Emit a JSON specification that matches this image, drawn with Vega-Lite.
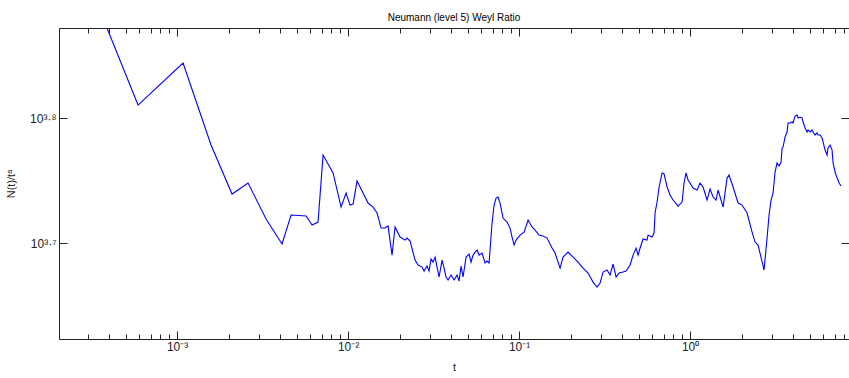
{
  "$schema": "https://vega.github.io/schema/vega-lite/v6.json",
  "width": 790,
  "height": 311,
  "autosize": {"type": "none"},
  "padding": {"left": 59, "top": 28, "right": 0, "bottom": 39},
  "background": "white",
  "title": {"text": "Neumann (level 5) Weyl Ratio", "fontSize": 10, "font": "Liberation Sans", "fontWeight": "normal", "color": "#000000", "offset": 5, "anchor": "middle"},
  "config": {
    "view": {"stroke": null},
    "axis": {"domainColor": "#222222", "tickColor": "#222222", "labelColor": "#222222", "titleColor": "#222222", "labelFont": "Liberation Sans", "titleFont": "Liberation Sans", "grid": false, "titleFontWeight": "normal", "labelFontSize": 11, "titleFontSize": 11}
  },
  "data": {"values": [
    {"t": 0.0003546, "ratio": 7685}, {"t": 0.0005914, "ratio": 6462}, {"t": 0.001084, "ratio": 6982}, {"t": 0.001580, "ratio": 6003},
    {"t": 0.002097, "ratio": 5485}, {"t": 0.002602, "ratio": 5598}, {"t": 0.003315, "ratio": 5238}, {"t": 0.004111, "ratio": 5003},
    {"t": 0.004642, "ratio": 5277}, {"t": 0.005681, "ratio": 5268}, {"t": 0.006159, "ratio": 5181}, {"t": 0.006676, "ratio": 5209},
    {"t": 0.007142, "ratio": 5893}, {"t": 0.008172, "ratio": 5702}, {"t": 0.009101, "ratio": 5355}, {"t": 0.009734, "ratio": 5495},
    {"t": 0.01027, "ratio": 5375}, {"t": 0.01070, "ratio": 5385}, {"t": 0.01129, "ratio": 5618}, {"t": 0.01224, "ratio": 5495},
    {"t": 0.01309, "ratio": 5395}, {"t": 0.01400, "ratio": 5355}, {"t": 0.01478, "ratio": 5297}, {"t": 0.01560, "ratio": 5152},
    {"t": 0.01646, "ratio": 5152}, {"t": 0.01714, "ratio": 5171}, {"t": 0.01808, "ratio": 4902}, {"t": 0.01883, "ratio": 5162},
    {"t": 0.02014, "ratio": 5067}, {"t": 0.02154, "ratio": 5039}, {"t": 0.02213, "ratio": 5058}, {"t": 0.02305, "ratio": 5030},
    {"t": 0.02465, "ratio": 4857}, {"t": 0.02567, "ratio": 4813}, {"t": 0.02708, "ratio": 4795}, {"t": 0.02783, "ratio": 4760},
    {"t": 0.02897, "ratio": 4804}, {"t": 0.02976, "ratio": 4760}, {"t": 0.03057, "ratio": 4866}, {"t": 0.03141, "ratio": 4839},
    {"t": 0.03227, "ratio": 4884}, {"t": 0.03315, "ratio": 4795}, {"t": 0.03406, "ratio": 4708}, {"t": 0.03546, "ratio": 4857},
    {"t": 0.03643, "ratio": 4786}, {"t": 0.03742, "ratio": 4708}, {"t": 0.03845, "ratio": 4682}, {"t": 0.04002, "ratio": 4725},
    {"t": 0.04168, "ratio": 4682}, {"t": 0.04339, "ratio": 4725}, {"t": 0.04458, "ratio": 4673}, {"t": 0.04579, "ratio": 4804},
    {"t": 0.04704, "ratio": 4708}, {"t": 0.04899, "ratio": 4884}, {"t": 0.05100, "ratio": 4911}, {"t": 0.05240, "ratio": 4839},
    {"t": 0.05383, "ratio": 4902}, {"t": 0.05530, "ratio": 4929}, {"t": 0.05681, "ratio": 4948}, {"t": 0.05836, "ratio": 4902},
    {"t": 0.06076, "ratio": 4920}, {"t": 0.06327, "ratio": 4831}, {"t": 0.06500, "ratio": 4848}, {"t": 0.06676, "ratio": 4831},
    {"t": 0.06952, "ratio": 5200}, {"t": 0.07142, "ratio": 5375}, {"t": 0.07337, "ratio": 5445}, {"t": 0.07537, "ratio": 5455},
    {"t": 0.07743, "ratio": 5395}, {"t": 0.08062, "ratio": 5248}, {"t": 0.08507, "ratio": 5209}, {"t": 0.08859, "ratio": 5152},
    {"t": 0.09101, "ratio": 5067}, {"t": 0.09350, "ratio": 4993}, {"t": 0.09605, "ratio": 5039}, {"t": 0.1013, "ratio": 5086},
    {"t": 0.1070, "ratio": 5114}, {"t": 0.1129, "ratio": 5229}, {"t": 0.1191, "ratio": 5162}, {"t": 0.1240, "ratio": 5133},
    {"t": 0.1309, "ratio": 5086}, {"t": 0.1381, "ratio": 5077}, {"t": 0.1458, "ratio": 5058}, {"t": 0.1560, "ratio": 4966},
    {"t": 0.1624, "ratio": 4920}, {"t": 0.1737, "ratio": 4786}, {"t": 0.1808, "ratio": 4884}, {"t": 0.1934, "ratio": 4929},
    {"t": 0.2069, "ratio": 4884}, {"t": 0.2213, "ratio": 4839}, {"t": 0.2367, "ratio": 4786}, {"t": 0.2532, "ratio": 4742},
    {"t": 0.2708, "ratio": 4664}, {"t": 0.2858, "ratio": 4621}, {"t": 0.2976, "ratio": 4656}, {"t": 0.3099, "ratio": 4751},
    {"t": 0.3270, "ratio": 4769}, {"t": 0.3404, "ratio": 4725}, {"t": 0.3546, "ratio": 4822}, {"t": 0.3693, "ratio": 4708},
    {"t": 0.3844, "ratio": 4742}, {"t": 0.4057, "ratio": 4751}, {"t": 0.4224, "ratio": 4760}, {"t": 0.4458, "ratio": 4813},
    {"t": 0.4642, "ratio": 4902}, {"t": 0.4832, "ratio": 4966}, {"t": 0.4966, "ratio": 4902}, {"t": 0.5101, "ratio": 4966},
    {"t": 0.5312, "ratio": 5049}, {"t": 0.5604, "ratio": 5039}, {"t": 0.5681, "ratio": 5086}, {"t": 0.5995, "ratio": 5067},
    {"t": 0.6159, "ratio": 5105}, {"t": 0.6242, "ratio": 5297}, {"t": 0.6412, "ratio": 5405}, {"t": 0.6589, "ratio": 5557},
    {"t": 0.6862, "ratio": 5702}, {"t": 0.7047, "ratio": 5692}, {"t": 0.7337, "ratio": 5557}, {"t": 0.7637, "ratio": 5475},
    {"t": 0.7953, "ratio": 5425}, {"t": 0.8507, "ratio": 5365}, {"t": 0.8979, "ratio": 5405}, {"t": 0.9224, "ratio": 5598},
    {"t": 0.9475, "ratio": 5702}, {"t": 0.9734, "ratio": 5629}, {"t": 1.041, "ratio": 5546}, {"t": 1.099, "ratio": 5526},
    {"t": 1.144, "ratio": 5598}, {"t": 1.191, "ratio": 5557}, {"t": 1.257, "ratio": 5425}, {"t": 1.309, "ratio": 5536},
    {"t": 1.363, "ratio": 5455}, {"t": 1.419, "ratio": 5425}, {"t": 1.458, "ratio": 5526}, {"t": 1.560, "ratio": 5355},
    {"t": 1.646, "ratio": 5649}, {"t": 1.691, "ratio": 5681}, {"t": 1.784, "ratio": 5557}, {"t": 1.909, "ratio": 5395},
    {"t": 2.014, "ratio": 5375}, {"t": 2.154, "ratio": 5297}, {"t": 2.305, "ratio": 5114}, {"t": 2.399, "ratio": 5021},
    {"t": 2.499, "ratio": 4993}, {"t": 2.708, "ratio": 4769}, {"t": 2.820, "ratio": 5058}, {"t": 2.897, "ratio": 5277},
    {"t": 2.976, "ratio": 5425}, {"t": 3.057, "ratio": 5495}, {"t": 3.141, "ratio": 5712}, {"t": 3.227, "ratio": 5808},
    {"t": 3.315, "ratio": 5776}, {"t": 3.406, "ratio": 5818}, {"t": 3.451, "ratio": 5970}, {"t": 3.499, "ratio": 5981},
    {"t": 3.594, "ratio": 6093}, {"t": 3.692, "ratio": 6149}, {"t": 3.742, "ratio": 6252}, {"t": 3.845, "ratio": 6252},
    {"t": 3.949, "ratio": 6263}, {"t": 4.002, "ratio": 6252}, {"t": 4.111, "ratio": 6332}, {"t": 4.224, "ratio": 6344},
    {"t": 4.281, "ratio": 6310}, {"t": 4.398, "ratio": 6321}, {"t": 4.519, "ratio": 6310}, {"t": 4.579, "ratio": 6263},
    {"t": 4.704, "ratio": 6194}, {"t": 4.833, "ratio": 6149}, {"t": 4.899, "ratio": 6172}, {"t": 5.032, "ratio": 6149},
    {"t": 5.170, "ratio": 6172}, {"t": 5.240, "ratio": 6149}, {"t": 5.383, "ratio": 6115}, {"t": 5.530, "ratio": 6138},
    {"t": 5.604, "ratio": 6115}, {"t": 5.757, "ratio": 6115}, {"t": 5.914, "ratio": 6081}, {"t": 5.995, "ratio": 6037},
    {"t": 6.159, "ratio": 5948}, {"t": 6.327, "ratio": 5893}, {"t": 6.412, "ratio": 5970}, {"t": 6.588, "ratio": 6003},
    {"t": 6.767, "ratio": 5948}, {"t": 6.860, "ratio": 5808}, {"t": 7.047, "ratio": 5712}, {"t": 7.238, "ratio": 5649},
    {"t": 7.337, "ratio": 5629}, {"t": 7.436, "ratio": 5598}, {"t": 7.638, "ratio": 5567}
  ]},
  "layer": [
    {
      "mark": {"type": "line", "color": "#0000ff", "strokeWidth": 1.1, "clip": true},
      "encoding": {
        "x": {"field": "t", "type": "quantitative",
          "scale": {"type": "log", "domain": [0.000204, 8.5], "nice": false},
          "axis": {"orient": "bottom", "title": "t", "titlePadding": 6,
            "values": [0.0003,0.0004,0.0005,0.0006,0.0007,0.0008,0.0009,0.001,0.002,0.003,0.004,0.005,0.006,0.007,0.008,0.009,0.01,0.02,0.03,0.04,0.05,0.06,0.07,0.08,0.09,0.1,0.2,0.3,0.4,0.5,0.6,0.7,0.8,0.9,1,2,3,4,5,6,7,8],
            "tickSize": {"condition": {"test": "indexof([0.001,0.01,0.1,1], datum.value) >= 0", "value": -8}, "value": -5},
            "labelExpr": "datum.value == 0.001 ? '10⁻³' : datum.value == 0.01 ? '10⁻²' : datum.value == 0.1 ? '10⁻¹' : datum.value == 1 ? '10⁰' : ''",
            "labelPadding": 10, "labelFlush": false, "labelOverlap": false, "labelFontSize": 12}},
        "y": {"field": "ratio", "type": "quantitative",
          "scale": {"type": "log", "domain": [4200, 7447], "nice": false},
          "axis": {"orient": "left", "title": "N(t)/tᵃ", "titlePadding": 13,
            "values": [5011.87, 6309.57], "tickSize": -8,
            "labelExpr": "datum.value > 6000 ? '10³·⁸' : '10³·⁷'",
            "labelPadding": 11, "labelFlush": false, "labelFontSize": 12}}
      }
    },
    {
      "mark": {"type": "line", "opacity": 0, "clip": true},
      "encoding": {
        "x": {"field": "t", "type": "quantitative",
          "axis": {"orient": "top", "title": null, "labels": false,
            "values": [0.0003,0.0004,0.0005,0.0006,0.0007,0.0008,0.0009,0.001,0.002,0.003,0.004,0.005,0.006,0.007,0.008,0.009,0.01,0.02,0.03,0.04,0.05,0.06,0.07,0.08,0.09,0.1,0.2,0.3,0.4,0.5,0.6,0.7,0.8,0.9,1,2,3,4,5,6,7,8],
            "tickSize": {"condition": {"test": "indexof([0.001,0.01,0.1,1], datum.value) >= 0", "value": -8}, "value": -5}}},
        "y": {"field": "ratio", "type": "quantitative",
          "axis": {"orient": "right", "title": null, "labels": false, "values": [5011.87, 6309.57], "tickSize": -8}}
      }
    }
  ],
  "resolve": {"axis": {"x": "independent", "y": "independent"}}
}
